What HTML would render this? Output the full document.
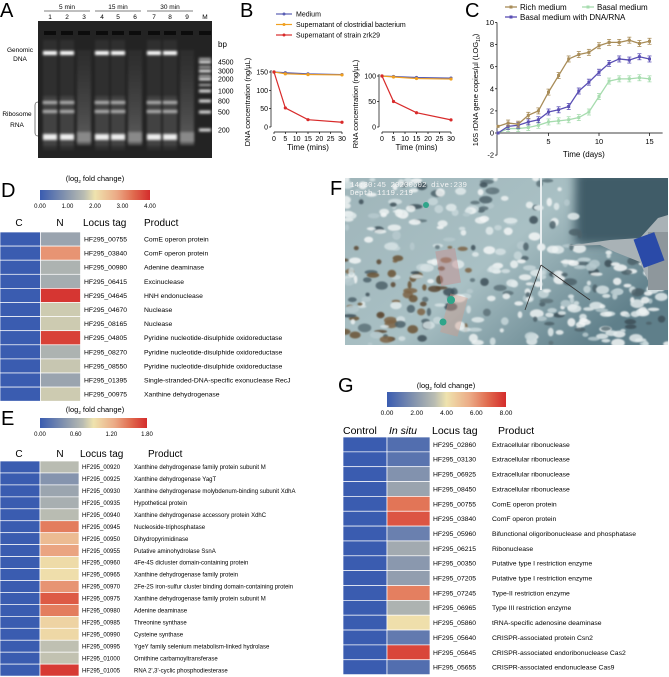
<!DOCTYPE html>
<html><head><meta charset="utf-8">
<style>
html,body{margin:0;padding:0;background:#fff;}
svg{display:block;font-family:"Liberation Sans",Arial,sans-serif;}
</style></head>
<body>
<svg id="fig" width="669" height="677" viewBox="0 0 669 677" xmlns="http://www.w3.org/2000/svg">
<defs>
  <filter id="blur1" x="-20%" y="-200%" width="140%" height="500%"><feGaussianBlur stdDeviation="1.2"/></filter>
  <filter id="blur3" x="-50%" y="-50%" width="200%" height="200%"><feGaussianBlur stdDeviation="3"/></filter>
  <filter id="blur5" x="-50%" y="-50%" width="200%" height="200%"><feGaussianBlur stdDeviation="5"/></filter>
  <filter id="blurS" x="-50%" y="-50%" width="200%" height="200%"><feGaussianBlur stdDeviation="0.8"/></filter>
  <linearGradient id="cbar" x1="0" x2="1" y1="0" y2="0">
    <stop offset="0" stop-color="#3a5cb0"/><stop offset="0.25" stop-color="#8a98ae"/>
    <stop offset="0.4" stop-color="#b9bcb2"/><stop offset="0.5" stop-color="#efe3ae"/>
    <stop offset="0.7" stop-color="#eba985"/><stop offset="0.85" stop-color="#e06a4e"/>
    <stop offset="1" stop-color="#d42c2c"/>
  </linearGradient>
  <linearGradient id="laneSmear" x1="0" x2="0" y1="0" y2="1">
    <stop offset="0" stop-color="#555" stop-opacity="0.2"/><stop offset="0.5" stop-color="#777" stop-opacity="0.35"/><stop offset="1" stop-color="#999" stop-opacity="0.5"/>
  </linearGradient>
  <linearGradient id="photoBg" x1="0" x2="1" y1="0" y2="0.6">
    <stop offset="0" stop-color="#9fb5ba"/><stop offset="0.55" stop-color="#a9c0c4"/><stop offset="1" stop-color="#5f7f8a"/>
  </linearGradient>
</defs>

<text x="0" y="17" font-size="20">A</text>
<text x="240" y="17" font-size="20">B</text>
<text x="465" y="17" font-size="20">C</text>
<text x="1" y="197" font-size="20">D</text>
<text x="330" y="195" font-size="20">F</text>
<text x="1" y="425" font-size="20">E</text>
<text x="338" y="392" font-size="20">G</text>

<g id="gel"></g>
<g id="chartB"></g>
<g id="chartC"></g>
<g id="photo"></g>
<g id="heatD"></g>
<g id="heatE"></g>
<g id="heatG"></g>
</svg>

<script>
// ---------- DATA ----------
const timesB = [0, 5, 15, 30];
const dnaMedium = [150, 148, 145, 143];
const dnaClostridial = [150, 145, 143, 142];
const dnaZrk29 = [150, 52, 20, 13];
const rnaMedium = [100, 99, 97, 96];
const rnaClostridial = [100, 98, 95, 94];
const rnaZrk29 = [100, 50, 28, 14];
const ticksBx = [0, 5, 10, 15, 20, 25, 30];
const ticksDNA = [0, 50, 100, 150];
const ticksRNA = [0, 50, 100];

const daysC = [0,1,2,3,4,5,6,7,8,9,10,11,12,13,14,15];
const richC = [0.6,0.9,0.8,1.6,2.0,3.7,5.2,6.7,7.1,7.3,7.9,8.2,8.2,8.4,8.1,8.3];
const dnaRnaC = [0,0.6,0.7,1.0,1.2,1.9,2.1,2.4,3.8,4.6,5.5,6.3,6.7,6.6,6.9,6.7];
const basalC = [0,0.4,0.4,0.5,0.7,1.0,1.1,1.2,1.4,1.9,3.3,4.7,4.9,4.9,5.0,4.9];
const ticksCy = [-2,0,2,4,6,8,10];
const ticksCx = [5,10,15];

const lociD = ["HF295_00755","HF295_03840","HF295_00980","HF295_06415","HF295_04645","HF295_04670","HF295_08165","HF295_04805","HF295_08270","HF295_08550","HF295_01395","HF295_00975"];
const productsD = ["ComE operon protein","ComF operon protein","Adenine deaminase","Excinuclease","HNH endonuclease","Nuclease","Nuclease","Pyridine nucleotide-disulphide oxidoreductase","Pyridine nucleotide-disulphide oxidoreductase","Pyridine nucleotide-disulphide oxidoreductase","Single-stranded-DNA-specific exonuclease RecJ","Xanthine dehydrogenase"];
const valuesDN = [1.2,3.0,1.45,1.35,3.9,1.75,1.75,3.8,1.45,1.7,1.2,1.75];
const valuesDC = [0,0,0,0,0,0,0,0,0,0,0,0];
const ticksD = ["0.00","1.00","2.00","3.00","4.00"];

const lociE = ["HF295_00920","HF295_00925","HF295_00930","HF295_00935","HF295_00940","HF295_00945","HF295_00950","HF295_00955","HF295_00960","HF295_00965","HF295_00970","HF295_00975","HF295_00980","HF295_00985","HF295_00990","HF295_00995","HF295_01000","HF295_01005"];
const productsE = ["Xanthine dehydrogenase family protein subunit M","Xanthine dehydrogenase YagT","Xanthine dehydrogenase molybdenum-binding subunit XdhA","Hypothetical protein","Xanthine dehydrogenase accessory protein XdhC","Nucleoside-triphosphatase","Dihydropyrimidinase","Putative aminohydrolase SsnA","4Fe-4S dicluster domain-containing protein","Xanthine dehydrogenase family protein","2Fe-2S iron-sulfur cluster binding domain-containing protein","Xanthine dehydrogenase family protein subunit M","Adenine deaminase","Threonine synthase","Cysteine synthase","YgeY family selenium metabolism-linked hydrolase","Ornithine carbamoyltransferase","RNA 2',3'-cyclic phosphodiesterase"];
const valuesEN = [0.72,0.42,0.55,0.62,0.72,1.45,1.15,1.28,0.95,0.93,1.35,1.6,1.45,1.0,0.97,0.74,0.75,1.74];
const valuesEC = [0,0,0,0,0,0,0,0,0,0,0,0,0,0,0,0,0,0];
const ticksE = ["0.00","0.60","1.20","1.80"];

const lociG = ["HF295_02860","HF295_03130","HF295_06925","HF295_08450","HF295_00755","HF295_03840","HF295_05960","HF295_06215","HF295_00350","HF295_07205","HF295_07245","HF295_06965","HF295_05860","HF295_05640","HF295_05645","HF295_05655"];
const productsG = ["Extracellular ribonuclease","Extracellular ribonuclease","Extracellular ribonuclease","Extracellular ribonuclease","ComE operon protein","ComF operon protein","Bifunctional oligoribonuclease and phosphatase","Ribonuclease","Putative type I restriction enzyme","Putative type I restriction enzyme","Type-II restriction enzyme","Type III restriction enzyme","tRNA-specific adenosine deaminase","CRISPR-associated protein Csn2","CRISPR-associated endoribonuclease Cas2","CRISPR-associated endonuclease Cas9"];
const valuesGInSitu = [0.6,0.8,1.8,2.4,6.6,7.2,1.2,2.6,2.0,2.2,6.4,2.9,4.1,1.0,7.5,0.6];
const valuesGControl = [0,0,0,0,0,0,0,0,0,0,0,0,0,0,0,0];
const ticksG = ["0.00","2.00","4.00","6.00","8.00"];

// ---------- helpers ----------
const NS = "http://www.w3.org/2000/svg";
function mk(parent, tag, attrs, text){
  const e = document.createElementNS(NS, tag);
  for (const k in attrs) e.setAttribute(k, attrs[k]);
  if (text !== undefined) e.textContent = text;
  parent.appendChild(e);
  return e;
}
const stops = [[0,[58,92,176]],[0.25,[138,152,174]],[0.4,[185,188,178]],[0.5,[239,227,174]],[0.7,[235,169,133]],[0.85,[224,106,78]],[1,[212,44,44]]];
function cmap(t){
  t = Math.max(0, Math.min(1, t));
  for (let i=1;i<stops.length;i++){
    if (t <= stops[i][0]){
      const a=stops[i-1], b=stops[i], f=(t-a[0])/(b[0]-a[0]);
      const c=a[1].map((v,j)=>Math.round(v+(b[1][j]-v)*f));
      return `rgb(${c[0]},${c[1]},${c[2]})`;
    }
  }
  return "rgb(212,44,44)";
}

// ---------- Panel A: gel ----------
(function(){
  const g = document.getElementById('gel');
  let e;
  e = mk(g,'rect',{x:38,y:21,width:174,height:137,fill:'#232323'});
   
  const lanes=[50,67,84,102,118,135,154,170,187];
  const degraded=[false,false,true,false,false,true,false,false,true];
  const heads=[["5 min",67],["15 min",118],["30 min",170]];
  heads.forEach(h=>{
    e = mk(g,'text',{x:h[1],y:9,'font-size':6.5,'text-anchor':'middle'},h[0]);
     
    mk(g,'line',{x1:h[1]-23,x2:h[1]+23,y1:11,y2:11,stroke:'#000','stroke-width':0.6});
  });
  lanes.forEach((x,i)=>{
    e = mk(g,'text',{x:x,y:19,'font-size':6.5,'text-anchor':'middle'},String(i+1));
     
    mk(g,'rect',{x:x-6,y:31,width:12,height:4,fill:'#0c0c0c'});
    if(!degraded[i]){
      mk(g,'rect',{x:x-7,y:40,width:14,height:110,fill:'#555',opacity:0.25,filter:'url(#blur1)'});
      mk(g,'rect',{x:x-7,y:51,width:14,height:4,fill:'#fff',filter:'url(#blur1)'});
      mk(g,'rect',{x:x-7,y:101,width:14,height:3,fill:'#ddd',filter:'url(#blur1)'});
      mk(g,'rect',{x:x-7,y:110,width:14,height:3,fill:'#ddd',filter:'url(#blur1)'});
      mk(g,'rect',{x:x-7,y:96,width:14,height:50,fill:'#666',opacity:0.35,filter:'url(#blur1)'});
      mk(g,'rect',{x:x-7,y:134,width:14,height:6,fill:'#eee',filter:'url(#blur1)'});
    } else {
      mk(g,'rect',{x:x-7,y:50,width:14,height:95,fill:'url(#laneSmear)',filter:'url(#blur1)'});
      mk(g,'rect',{x:x-7,y:132,width:14,height:10,fill:'#aaa',opacity:0.6,filter:'url(#blur1)'});
    }
  });
  mk(g,'text',{x:205,y:19,'font-size':6.5,'text-anchor':'middle'},'M');
  mk(g,'rect',{x:199,y:31,width:12,height:4,fill:'#0c0c0c'});
  const ladder=[["4500",62],["3000",71],["2000",79],["1000",91],["800",101],["500",112],["200",130]];
  ladder.forEach(l=>{
    mk(g,'rect',{x:199,y:l[1]-1.5,width:12,height:3,fill:'#ddd',filter:'url(#blur1)'});
    e = mk(g,'text',{x:218,y:l[1]+2.5,'font-size':7},l[0]);
     
  });
  for(const y of [58,66,75,84]) mk(g,'rect',{x:199,y:y,width:12,height:2,fill:'#bbb',filter:'url(#blur1)'});
  mk(g,'text',{x:218,y:47,'font-size':8},'bp');
  e = mk(g,'text',{x:20,y:52,'font-size':6.5,'text-anchor':'middle'},'Genomic');
   
  mk(g,'text',{x:20,y:61,'font-size':6.5,'text-anchor':'middle'},'DNA');
  e = mk(g,'text',{x:17,y:116,'font-size':6.5,'text-anchor':'middle'},'Ribosome');
   
  mk(g,'text',{x:17,y:127,'font-size':6.5,'text-anchor':'middle'},'RNA');
  mk(g,'path',{d:'M38,102 Q35,102 35,105 L35,133 Q35,136 38,136',fill:'none',stroke:'#000','stroke-width':0.5});
})();

// ---------- Panel B ----------
(function(){
  const g = document.getElementById('chartB');
  let e;
  const legend=[["Medium","#5a5fb4"],["Supernatant of clostridial bacterium","#f0a020"],["Supernatant of strain zrk29","#d82a2a"]];
  legend.forEach((l,i)=>{
    const y=14+i*10.5;
    e = mk(g,'line',{x1:276,x2:292,y1:y,y2:y,stroke:l[1],'stroke-width':1.2});
     
    mk(g,'circle',{cx:284,cy:y,r:1.5,fill:l[1]});
    e = mk(g,'text',{x:296,y:y+2.5,'font-size':7},l[0]);
     
  });
  function plot(x0,x1,yTop,yBot,ymax,ticks,series,ylabel,lx,axisX){
    const sx=t=>x0+(t/30)*(x1-x0);
    const sy=v=>yBot-(v/ymax)*(yBot-yTop);
    const axY=132;
    e = mk(g,'line',{x1:axisX,x2:axisX,y1:sy(ticks[ticks.length-1])-2,y2:yBot,stroke:'#000','stroke-width':0.7});
     
    ticks.forEach(t=>{
      mk(g,'line',{x1:axisX-2,x2:axisX,y1:sy(t),y2:sy(t),stroke:'#000','stroke-width':0.7});
      e = mk(g,'text',{x:axisX-3,y:sy(t)+2.5,'font-size':7,'text-anchor':'end'},String(t));
       
    });
    e = mk(g,'line',{x1:x0,x2:x1,y1:axY,y2:axY,stroke:'#000','stroke-width':0.7});
     
    ticksBx.forEach(t=>{
      mk(g,'line',{x1:sx(t),x2:sx(t),y1:axY,y2:axY+2,stroke:'#000','stroke-width':0.7});
      e = mk(g,'text',{x:sx(t),y:axY+9,'font-size':7,'text-anchor':'middle'},String(t));
       
    });
    e = mk(g,'text',{x:(x0+x1)/2,y:axY+18,'font-size':8,'text-anchor':'middle'},'Time (mins)');
     
    e = mk(g,'text',{x:lx,y:(yTop+axY)/2,'font-size':7.5,'text-anchor':'middle',transform:`rotate(-90 ${lx} ${(yTop+axY)/2})`},ylabel);
     
    series.forEach(s=>{
      const pts=timesB.map((t,i)=>sx(t)+','+sy(s[0][i])).join(' ');
      e = mk(g,'polyline',{points:pts,fill:'none',stroke:s[1],'stroke-width':1.2});
       
      timesB.forEach((t,i)=>{
        e = mk(g,'circle',{cx:sx(t),cy:sy(s[0][i]),r:1.6,fill:s[1]});
         
      });
    });
  }
  plot(274,342,72,127,150,ticksDNA,[[dnaMedium,'#5a5fb4'],[dnaClostridial,'#f0a020'],[dnaZrk29,'#d82a2a']],'DNA concentration (ng/µL)',250,271);
  plot(382,451,76,127,100,ticksRNA,[[rnaMedium,'#5a5fb4'],[rnaClostridial,'#f0a020'],[rnaZrk29,'#d82a2a']],'RNA concentration (ng/µL)',358,379);
})();

// ---------- Panel C ----------
(function(){
  const g=document.getElementById('chartC');
  let e;
  const x0=498, dx=10.1, y0=133, dy=11.05;
  const sx=d=>x0+d*dx, sy=v=>y0-v*dy;
  const cols={rich:'#a88c58',basal:'#a6dcae',dna:'#5a4fb4'};
  const leg=[["Rich medium",cols.rich,505,7],["Basal medium",cols.basal,582,7],["Basal medium with DNA/RNA",cols.dna,505,17]];
  leg.forEach(l=>{
    e = mk(g,'line',{x1:l[2],x2:l[2]+12,y1:l[3],y2:l[3],stroke:l[1],'stroke-width':1.3});
     
    mk(g,'rect',{x:l[2]+4.5,y:l[3]-1.5,width:3,height:3,fill:l[1]});
    e = mk(g,'text',{x:l[2]+15,y:l[3]+3,'font-size':8},l[0]);
     
  });
  e = mk(g,'line',{x1:x0-1,x2:x0-1,y1:sy(10),y2:sy(-2),stroke:'#000','stroke-width':0.7});
   
  ticksCy.forEach(t=>{
    mk(g,'line',{x1:x0-3,x2:x0-1,y1:sy(t),y2:sy(t),stroke:'#000','stroke-width':0.7});
    e = mk(g,'text',{x:x0-4,y:sy(t)+2.5,'font-size':7.5,'text-anchor':'end'},String(t));
     
  });
  e = mk(g,'line',{x1:x0-1,x2:sx(16.3),y1:y0,y2:y0,stroke:'#000','stroke-width':0.7});
   
  ticksCx.forEach(t=>{
    mk(g,'line',{x1:sx(t),x2:sx(t),y1:y0,y2:y0+3,stroke:'#000','stroke-width':0.7});
    e = mk(g,'text',{x:sx(t),y:y0+11,'font-size':7.5,'text-anchor':'middle'},String(t));
     
  });
  e = mk(g,'text',{x:sx(8.5),y:157,'font-size':8,'text-anchor':'middle'},'Time (days)');
   
  e = mk(g,'text',{x:478,y:90,'font-size':7.5,'text-anchor':'middle',transform:'rotate(-90 478 90)'},'16S rDNA gene copies/µl (LOG');
   
  const t1=document.createElementNS(NS,'tspan'); t1.textContent='10'; t1.setAttribute('font-size','5'); t1.setAttribute('dy','2'); e.appendChild(t1);
  const t2=document.createElementNS(NS,'tspan'); t2.textContent=')'; t2.setAttribute('dy','-2'); e.appendChild(t2);
  [[basalC,cols.basal],[dnaRnaC,cols.dna],[richC,cols.rich]].forEach(s=>{
    const pts=daysC.map((d,i)=>sx(d)+','+sy(s[0][i])).join(' ');
    e = mk(g,'polyline',{points:pts,fill:'none',stroke:s[1],'stroke-width':1.3});
     
    daysC.forEach((d,i)=>{
      const x=sx(d), y=sy(s[0][i]);
      if(d>0){
        mk(g,'line',{x1:x,x2:x,y1:y-3,y2:y+3,stroke:s[1],'stroke-width':0.8});
        mk(g,'line',{x1:x-2,x2:x+2,y1:y-3,y2:y-3,stroke:s[1],'stroke-width':0.8});
        mk(g,'line',{x1:x-2,x2:x+2,y1:y+3,y2:y+3,stroke:s[1],'stroke-width':0.8});
      }
      e = mk(g,'rect',{x:x-1.5,y:y-1.5,width:3,height:3,fill:s[1]});
       
    });
  });
})();

// ---------- Panel F: photo ----------
(function(){
  const g=document.getElementById('photo');
  let e;
  const cp=mk(g,'clipPath',{id:'phClip'});
  mk(cp,'rect',{x:345,y:178,width:323,height:167});
  const h=mk(g,'g',{'clip-path':'url(#phClip)'});
  e = mk(h,'rect',{x:345,y:178,width:323,height:167,fill:'url(#photoBg)'});
   
  mk(h,'rect',{x:575,y:170,width:110,height:75,fill:'#3f5b68',filter:'url(#blur5)'});
  // texture: pseudo-random flakes (decorative)
  let seed=7;
  const rnd=()=>{seed=(seed*16807)%2147483647;return seed/2147483647;};
  for(let i=0;i<420;i++){
    const x=345+rnd()*323, y=178+rnd()*167;
    if(x>580 && y<240) continue;
    let col;
    const r=rnd();
    const left=(x<470 && y>240);
    if(left && r<0.35) col=['#6b5334','#7d6444','#5a4630'][Math.floor(rnd()*3)];
    else if(r<0.55) col=['#eef3f3','#f4f7f7','#e2ebec'][Math.floor(rnd()*3)];
    else if(r<0.8) col=['#c8d8db','#b7cacf','#d6e2e4'][Math.floor(rnd()*3)];
    else col=['#4e626a','#5d7279','#3e5058'][Math.floor(rnd()*3)];
    mk(h,'ellipse',{cx:x.toFixed(1),cy:y.toFixed(1),rx:(2+rnd()*5).toFixed(1),ry:(1.5+rnd()*3).toFixed(1),fill:col,opacity:0.85,filter:'url(#blurS)'});
  }
  mk(h,'rect',{x:439,y:250,width:20,height:35,fill:'#c98c8c',opacity:0.45,transform:'rotate(-10 446 272)'});
  mk(h,'rect',{x:445,y:295,width:18,height:40,fill:'#d59a8a',opacity:0.4,transform:'rotate(15 454 315)'});
  mk(h,'circle',{cx:451,cy:300,r:4,fill:'#2fa58a'});
  mk(h,'circle',{cx:443,cy:322,r:3.5,fill:'#2fa58a'});
  mk(h,'circle',{cx:426,cy:205,r:3,fill:'#2fa58a'});
  mk(h,'line',{x1:541,y1:178,x2:541,y2:290,stroke:'#e8eef0','stroke-width':2});
  mk(h,'line',{x1:541,y1:265,x2:525,y2:310,stroke:'#333','stroke-width':0.8});
  mk(h,'line',{x1:541,y1:265,x2:590,y2:300,stroke:'#333','stroke-width':0.8});
  e = mk(h,'path',{d:'M567,246 L600,245 L615,252 L640,262 L652,290 L668,285 L668,215 L658,218 L640,238 L610,240 Z',fill:'#a9b2b6'});
   
  mk(h,'rect',{x:648,y:232,width:20,height:58,fill:'#8e979c'});
  mk(h,'rect',{x:638,y:235,width:22,height:30,fill:'#2a4aa8',transform:'rotate(-20 649 250)'});
  e = mk(h,'text',{x:350,y:187,'font-size':7.5,fill:'#f4f4f4','font-family':'Liberation Mono, monospace'},'14:30:45  20200602  dive:239');
   
  mk(h,'text',{x:350,y:195,'font-size':7.5,fill:'#f4f4f4','font-family':'Liberation Mono, monospace'},'Depth  1119.219');
})();

// ---------- Heatmaps ----------
function heatmap(gid,cfg){
  const g=document.getElementById(gid);
  let e;
  e = mk(g,'text',{x:cfg.titleX,y:cfg.titleY,'font-size':cfg.titleFs,'text-anchor':'middle'},'(log');
   
  const ts=document.createElementNS(NS,'tspan'); ts.textContent='2'; ts.setAttribute('font-size',cfg.titleFs*0.6); ts.setAttribute('dy','2'); e.appendChild(ts);
  const ts2=document.createElementNS(NS,'tspan'); ts2.textContent=' fold change)'; ts2.setAttribute('dy','-2'); e.appendChild(ts2);
  e = mk(g,'rect',{x:cfg.cbX,y:cfg.cbY,width:cfg.cbW,height:cfg.cbH,fill:'url(#cbar)'});
   
  cfg.ticks.forEach((t,i)=>{
    e = mk(g,'text',{x:cfg.cbX+cfg.cbW*i/(cfg.ticks.length-1),y:cfg.cbY+cfg.cbH+8,'font-size':cfg.tickFs,'text-anchor':'middle'},t);
     
  });
  cfg.headers.forEach(hd=>{
    e = mk(g,'text',{x:hd[1],y:cfg.headY,'font-size':cfg.headFs,'text-anchor':hd[2]||'start','font-style':hd[3]||'normal'},hd[0]);
     
  });
  cfg.loci.forEach((loc,i)=>{
    const y=cfg.rowY+i*cfg.rowH;
    e = mk(g,'rect',{x:cfg.c1X,y:y,width:cfg.colW1,height:cfg.rowH,fill:cmap(cfg.vals1[i]/cfg.max),stroke:'#fff','stroke-width':0.7});
     
    e = mk(g,'rect',{x:cfg.c1X+cfg.colW1,y:y,width:cfg.colW2,height:cfg.rowH,fill:cmap(cfg.vals2[i]/cfg.max),stroke:'#fff','stroke-width':0.7});
     
    e = mk(g,'text',{x:cfg.locX,y:y+cfg.rowH/2+cfg.fs*0.36,'font-size':cfg.fs},loc);
     
    e = mk(g,'text',{x:cfg.prodX,y:y+cfg.rowH/2+cfg.fs*0.36,'font-size':cfg.fs},cfg.prods[i]);
     
  });
}
heatmap('heatD',{titleX:95,titleY:181,titleFs:7.5,cbX:40,cbY:190,cbW:110,cbH:10,ticks:ticksD,tickFs:6,
  headers:[["C",19,'middle'],["N",60,'middle'],["Locus tag",83],["Product",144]],headY:226,headFs:10,
  loci:lociD,prods:productsD,vals1:valuesDC,vals2:valuesDN,max:4,rowY:232,rowH:14.1,c1X:0,colW1:40.5,colW2:40,locX:84,prodX:144,fs:6.8});
heatmap('heatE',{titleX:95,titleY:412,titleFs:7.5,cbX:40,cbY:418,cbW:107,cbH:10,ticks:ticksE,tickFs:6,
  headers:[["C",19,'middle'],["N",60,'middle'],["Locus tag",80],["Product",148]],headY:457,headFs:10,
  loci:lociE,prods:productsE,vals1:valuesEC,vals2:valuesEN,max:1.8,rowY:461,rowH:11.95,c1X:0,colW1:40,colW2:39,locX:82,prodX:134,fs:6});
heatmap('heatG',{titleX:446,titleY:388,titleFs:7.5,cbX:387,cbY:392,cbW:119,cbH:15,ticks:ticksG,tickFs:6.5,
  headers:[["Control",343],["In situ",389,'start','italic'],["Locus tag",432],["Product",498]],headY:434,headFs:10.5,
  loci:lociG,prods:productsG,vals1:valuesGControl,vals2:valuesGInSitu,max:8,rowY:437,rowH:14.85,c1X:343,colW1:44,colW2:43,locX:433,prodX:492,fs:6.8});
</script>
</body></html>
